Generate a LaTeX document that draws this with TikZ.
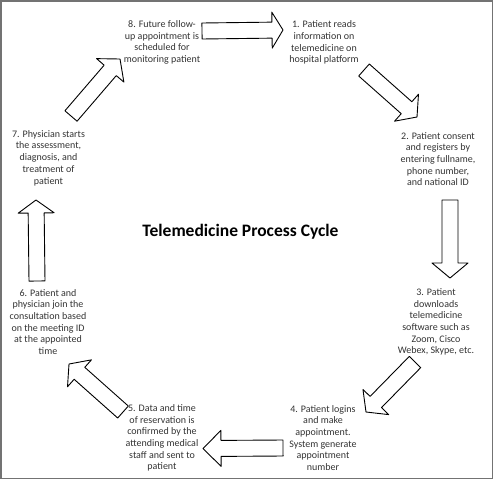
\documentclass[tikz,border=0pt]{standalone}
\usepackage{fontspec}
\setmainfont{Carlito}
\usetikzlibrary{calc}
\tikzset{
  steptext/.style={align=center, inner sep=0pt, text=black!80,
    font=\fontsize{10}{11.7}\selectfont},
  barrow/.style={draw=black, line width=0.9pt, fill=white, line join=round},
  frame/.style={draw=black!55, line width=1.6pt}
}
% block arrow from tail coordinate #1 to tip coordinate #2, head length #3
\newcommand\blockarrow[3]{%
  \coordinate (hb) at ($(#2)!#3!(#1)$);
  \draw[barrow] ($(#1)!8pt!90:(#2)$) -- ($(hb)!8pt!90:(#2)$) -- ($(hb)!18pt!90:(#2)$)
    -- (#2) -- ($(hb)!18pt!-90:(#2)$) -- ($(hb)!8pt!-90:(#2)$) -- ($(#1)!8pt!-90:(#2)$) -- cycle;
}
\begin{document}
\begin{tikzpicture}[x=1pt, y=-1pt]
\useasboundingbox (0,0) rectangle (494,482);
\draw[frame] (1,1) rectangle (492.5,478.5);

\node[steptext] (s8) at (162,42.5) {8. Future follow-\\up appointment is\\scheduled for\\monitoring patient};
\node[steptext] (s1) at (324,42.5) {1. Patient reads\\information on\\telemedicine on\\hospital platform};
\node[steptext] (s2) at (438,159) {2. Patient consent\\and registers by\\entering fullname,\\phone number,\\and national ID};
\node[steptext] (s3) at (436,322) {3. Patient\\downloads\\telemedicine\\software such as\\Zoom, Cisco\\Webex, Skype, etc.};
\node[steptext] (s4) at (323,438) {4. Patient logins\\and make\\appointment.\\System generate\\appointment\\number};
\node[steptext] (s5) at (162,438) {5. Data and time\\of reservation is\\confirmed by the\\attending medical\\staff and sent to\\patient};
\node[steptext] (s6) at (48,322) {6. Patient and\\physician join the\\consultation based\\on the meeting ID\\at the appointed\\time};
\node[steptext] (s7) at (48.5,158) {7. Physician starts\\the assessment,\\diagnosis, and\\treatment of\\patient};

\node[font=\bfseries\fontsize{17.5}{21}\selectfont, inner sep=0pt] (title) at (240.5,231.5) {Telemedicine Process Cycle};

% arrow end points
\coordinate (a81t) at (202,31);   \coordinate (a81h) at (283,30);
\coordinate (a12t) at (364,70);   \coordinate (a12h) at (417,117);
\coordinate (a23t) at (450,200);  \coordinate (a23h) at (450,278);
\coordinate (a34t) at (415,362);  \coordinate (a34h) at (366,412);
\coordinate (a45t) at (283,448);  \coordinate (a45h) at (203,448.5);
\coordinate (a56t) at (123,412);  \coordinate (a56h) at (69,364);
\coordinate (a67t) at (37,281);   \coordinate (a67h) at (36,200);
\coordinate (a78t) at (71,116);   \coordinate (a78h) at (120,59);

\blockarrow{a81t}{a81h}{11pt}
\blockarrow{a12t}{a12h}{14pt}
\blockarrow{a23t}{a23h}{15pt}
\blockarrow{a34t}{a34h}{14pt}
\blockarrow{a45t}{a45h}{18pt}
\blockarrow{a56t}{a56h}{14pt}
\blockarrow{a67t}{a67h}{13pt}
\blockarrow{a78t}{a78h}{15pt}
\end{tikzpicture}
\end{document}
